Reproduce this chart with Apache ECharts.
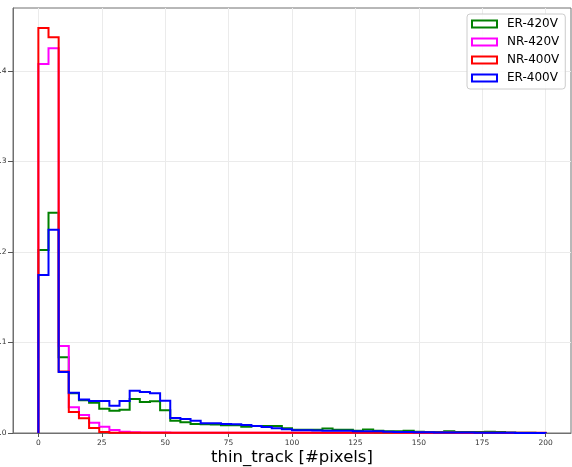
<!DOCTYPE html>
<html><head><meta charset="utf-8">
<script src="https://cdn.jsdelivr.net/npm/echarts@6/dist/echarts.min.js"></script>
<style>html,body{margin:0;padding:0;background:#fff}#c{width:572px;height:467px}</style>
</head><body><div id="c"></div>
<script>
// bins of width 4 from 0 to 200
const binStart = 0;
const binWidth = 4;
const seriesNames = ['ER-420V', 'NR-420V', 'NR-400V', 'ER-400V'];
const seriesColors = ['#008000', '#ff00ff', '#ff0000', '#0000ff'];
const er420 = [0.2022, 0.2434, 0.0836, 0.0440, 0.0363, 0.0335, 0.0269, 0.0247, 0.0258, 0.0376,
               0.0343, 0.0350, 0.0250, 0.0136, 0.0118, 0.0100, 0.0096, 0.0095, 0.0085, 0.0085,
               0.0070, 0.0078, 0.0077, 0.0077, 0.0052, 0.0037, 0.0037, 0.0037, 0.0050, 0.0037,
               0.0035, 0.0025, 0.0040, 0.0025, 0.0020, 0.0018, 0.0026, 0.0015, 0.0012, 0.0012,
               0.0020, 0.0010, 0.0012, 0.0010, 0.0015, 0.0010, 0.0005, 0.0003, 0.0002, 0.0001];
const nr420 = [0.4077, 0.4250, 0.0961, 0.0284, 0.0199, 0.0114, 0.0070, 0.0033, 0.0015, 0.0008,
               0.0006, 0.0005, 0.0005, 0.0004, 0.0004, 0.0004, 0.0004, 0.0003, 0.0003, 0.0003,
               0.0003, 0.0003, 0.0003, 0.0003, 0.0003, 0.0003, 0.0003, 0.0003, 0.0004, 0.0004,
               0.0004, 0.0005, 0.0006, 0.0010, 0.0012, 0.0006, 0.0004, 0.0003, 0.0002, 0.0002,
               0.0002, 0.0001, 0.0001, 0.0000, 0.0000, 0.0000, 0.0000, 0.0000, 0.0000, 0.0000];
const nr400 = [0.4475, 0.4372, 0.0680, 0.0232, 0.0162, 0.0055, 0.0011, 0.0004, 0.0002, 0.0002,
               0.0002, 0.0002, 0.0002, 0.0002, 0.0002, 0.0002, 0.0002, 0.0002, 0.0002, 0.0002,
               0.0002, 0.0002, 0.0002, 0.0002, 0.0002, 0.0002, 0.0002, 0.0002, 0.0002, 0.0002,
               0.0002, 0.0002, 0.0002, 0.0002, 0.0002, 0.0002, 0.0002, 0.0003, 0.0003, 0.0003,
               0.0003, 0.0003, 0.0003, 0.0003, 0.0003, 0.0003, 0.0003, 0.0003, 0.0003, 0.0003];
const er400 = [0.1746, 0.2247, 0.0674, 0.0446, 0.0370, 0.0354, 0.0354, 0.0302, 0.0354, 0.0468,
               0.0453, 0.0438, 0.0357, 0.0166, 0.0155, 0.0136, 0.0107, 0.0107, 0.0099, 0.0098,
               0.0088, 0.0077, 0.0066, 0.0052, 0.0041, 0.0030, 0.0030, 0.0028, 0.0025, 0.0025,
               0.0026, 0.0020, 0.0020, 0.0018, 0.0015, 0.0012, 0.0010, 0.0008, 0.0008, 0.0006,
               0.0006, 0.0005, 0.0005, 0.0004, 0.0003, 0.0002, 0.0002, 0.0001, 0.0001, 0.0001];
const xTicks = [0, 25, 50, 75, 100, 125, 150, 175, 200];
const yTicks = [0, 0.1, 0.2, 0.3, 0.4];
const xLabel = 'thin_track [#pixels]';

// outline of a step histogram: up the left edge, across each bin, down the right edge
function stepCoords(vals) {
  const pts = [[binStart, 0]];
  vals.forEach((v, i) => {
    pts.push([binStart + i * binWidth, v]);
    pts.push([binStart + (i + 1) * binWidth, v]);
  });
  pts.push([binStart + vals.length * binWidth, 0]);
  return pts;
}
const allValues = [er420, nr420, nr400, er400];

const chart = echarts.init(document.getElementById('c'), null, {renderer: 'canvas'});
const fontFamily = '"DejaVu Sans", sans-serif';
chart.setOption({
  animation: false,
  backgroundColor: '#ffffff',
  textStyle: {fontFamily: fontFamily},
  grid: {left: 13, right: 1, top: 8, bottom: 34, containLabel: false, outerBoundsMode: 'none',
         show: true, borderColor: '#707070', borderWidth: 1, backgroundColor: 'transparent'},
  legend: {
    orient: 'vertical', left: 467, top: 14,
    padding: [3, 6, 4, 4],
    itemWidth: 25, itemHeight: 7, itemGap: 4,
    backgroundColor: 'rgba(255,255,255,0.85)', borderColor: '#cccccc', borderWidth: 1, borderRadius: 3,
    icon: 'rect',
    textStyle: {fontSize: 12, color: '#000', fontFamily: fontFamily, lineHeight: 14, padding: [0, 0, 0, 5]},
    data: seriesNames.map((n, i) => ({name: n, itemStyle: {color: '#ffffff', borderColor: seriesColors[i], borderWidth: 2}}))
  },
  xAxis: {
    type: 'value', min: -10, max: 210,
    name: xLabel, nameLocation: 'middle', nameGap: 16, nameMoveOverlap: false,
    nameTextStyle: {fontSize: 16.5, color: '#000', fontFamily: fontFamily, lineHeight: 18},
    axisLine: {show: true, onZero: false, lineStyle: {color: '#707070', width: 1}},
    axisTick: {show: true, inside: false, length: 4, customValues: xTicks, lineStyle: {color: '#555'}},
    axisLabel: {customValues: xTicks, fontSize: 7.5, color: '#333', margin: 6, fontFamily: fontFamily},
    splitLine: {show: true, customValues: xTicks, lineStyle: {color: '#ebebeb', width: 1}}
  },
  yAxis: {
    type: 'value', min: 0, max: 0.4696,
    axisLine: {show: true, onZero: false, lineStyle: {color: '#707070', width: 1}},
    axisTick: {show: true, inside: false, length: 5, customValues: yTicks, lineStyle: {color: '#555'}},
    axisLabel: {customValues: yTicks, fontSize: 7.5, color: '#333', margin: 6.5, fontFamily: fontFamily,
                formatter: v => v.toFixed(1)},
    splitLine: {show: true, customValues: yTicks, lineStyle: {color: '#ebebeb', width: 1}}
  },
  series: seriesNames.map((n, i) => ({
    name: n, type: 'lines', coordinateSystem: 'cartesian2d', polyline: true, z: 2 + i,
    data: [{coords: stepCoords(allValues[i])}],
    lineStyle: {color: seriesColors[i], width: 2, opacity: 1},
    itemStyle: {color: seriesColors[i]}
  }))
});
</script></body></html>
